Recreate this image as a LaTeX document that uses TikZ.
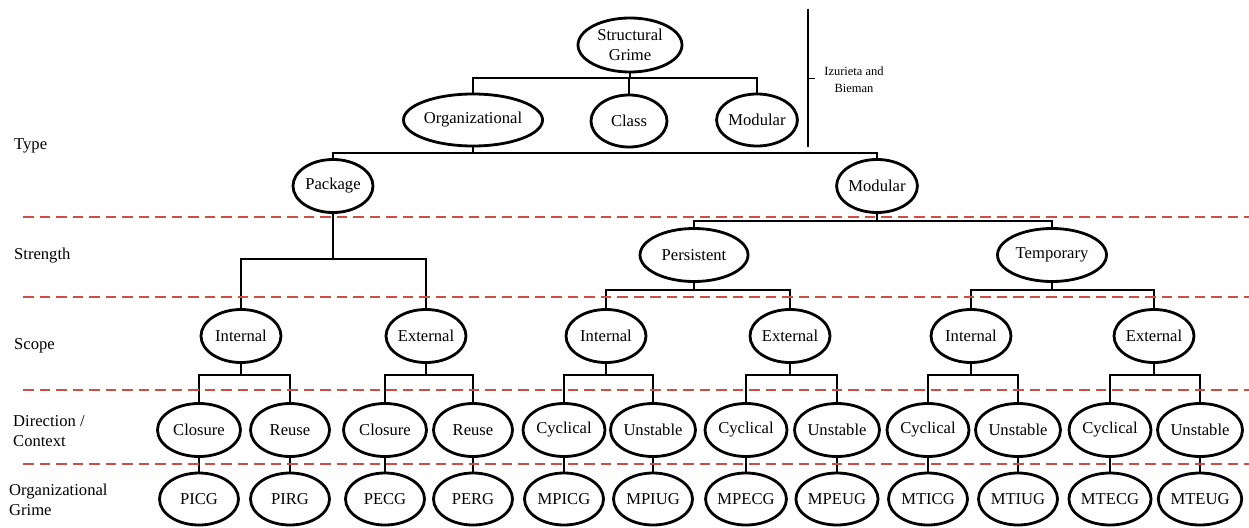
\documentclass[tikz,border=0pt]{standalone}
\usepackage{fontspec}
\setmainfont{Liberation Serif}
\usetikzlibrary{shapes.geometric,backgrounds}
\definecolor{dashred}{RGB}{200,80,72}
\tikzset{
  el/.style={ellipse, draw, line width=2.8pt, fill=white, inner sep=0pt, minimum height=52pt},
  conn/.style={line width=2.8pt, line join=miter},
  redline/.style={draw=dashred, line width=2.6pt, dash pattern=on 10.5pt off 6pt},
  lab/.style={anchor=west, align=left, inner sep=0pt},
}
\newcommand\fork[4]{%
  \draw[conn] (#1.south) -- (#1.south |- 0,#2);
  \draw[conn] (#3.north) -- (#3.north |- 0,#2) -- (#4.north |- 0,#2) -- (#4.north);
}
\begin{document}
\begin{tikzpicture}[x=1pt,y=-1pt,font=\fontsize{16.6}{20}\selectfont]
\useasboundingbox (0,0) rectangle (1249,527);
% top
\node[el, minimum width=104pt, minimum height=54pt, align=center] (sg) at (630,45) {Structural\\Grime};
\node[el, minimum width=137pt] (org) at (473,120) {Organizational};
\node[el, minimum width=76pt] (cls) at (629,121) {Class};
\node[el, minimum width=79pt] (mod) at (757,120) {Modular};
\node[el, minimum width=80pt, minimum height=53pt] (pkg) at (333,186) {Package};
\node[el, minimum width=78pt, minimum height=53pt] (mod2) at (877,186) {Modular};
% strength
\node[el, minimum width=108pt, minimum height=53pt] (pers) at (694,255) {Persistent};
\node[el, minimum width=109pt, minimum height=53pt] (temp) at (1052,255) {Temporary};
% scope
\foreach \n/\x/\t in {pi/241/Internal, pe/426/External, mpi/606/Internal, mpe/790/External, mti/971/Internal, mte/1154/External}
  \node[el, minimum width=80pt, minimum height=53pt] (\n) at (\x,336) {\t};
% direction
\foreach \n/\x/\w/\t in {pic/199/83/Closure, pir/290/79/Reuse, pec/385/83/Closure, per/473/79/Reuse,
  mpic/564/82/Cyclical, mpiu/653/85/Unstable, mpec/746/82/Cyclical, mpeu/837/85/Unstable,
  mtic/928/82/Cyclical, mtiu/1018/85/Unstable, mtec/1110/82/Cyclical, mteu/1200/85/Unstable}
  \node[el, minimum width=\w pt, minimum height=53pt] (\n) at (\x,430) {\t};
% grime
\foreach \n/\x/\t in {pic/199/PICG, pir/290/PIRG, pec/385/PECG, per/473/PERG,
  mpic/564/MPICG, mpiu/653/MPIUG, mpec/746/MPECG, mpeu/837/MPEUG,
  mtic/928/MTICG, mtiu/1018/MTIUG, mtec/1110/MTECG, mteu/1200/MTEUG}
  \node[el, minimum width=79pt] (\n g) at (\x,499) {\t};
% left labels
\node[lab] (ltype) at (14,146) {Type};
\node[lab] (lstr) at (14,256) {Strength};
\node[lab] (lscope) at (14,346) {Scope};
\node[lab] (ldir) at (13,431) {Direction /\\Context};
\node[lab] (lgrime) at (9,500) {Organizational\\Grime};
% bracket
\coordinate (bt) at (808,9);
\coordinate (bb) at (808,147);
\coordinate (bm) at (808,78);
\draw[line width=2.4pt] (bt) -- (bb);
\node[align=center, font=\fontsize{12.5}{17}\selectfont, inner sep=0pt] (iz) at (854,80) {Izurieta and\\Bieman};
\draw[line width=0.9pt] (bm) -- ++(7,0);
\begin{pgfonlayer}{background}
\draw[conn] (sg.south) -- (sg.south |- 0,78);
\draw[conn] (org.north) -- (org.north |- 0,78) -- (mod.north |- 0,78) -- (mod.north);
\draw[conn] (cls.north) -- (cls.north |- 0,78);
\draw[conn] (org.south) -- (org.south |- 0,153);
\draw[conn] (pkg.north) -- (pkg.north |- 0,153) -- (mod2.north |- 0,153) -- (mod2.north);
\fork{pkg}{259}{pi}{pe}
\fork{mod2}{221}{pers}{temp}
\fork{pers}{290}{mpi}{mpe}
\fork{temp}{290}{mti}{mte}
\fork{pi}{375}{pic}{pir}
\fork{pe}{375}{pec}{per}
\fork{mpi}{375}{mpic}{mpiu}
\fork{mpe}{375}{mpec}{mpeu}
\fork{mti}{375}{mtic}{mtiu}
\fork{mte}{375}{mtec}{mteu}
\foreach \n in {pic,pir,pec,per,mpic,mpiu,mpec,mpeu,mtic,mtiu,mtec,mteu}
  \draw[conn] (\n.south) -- (\n g.north);
\foreach \y in {217,297,390,464}
  \draw[redline] (23,\y) -- (1249,\y);
\end{pgfonlayer}
\end{tikzpicture}
\end{document}
